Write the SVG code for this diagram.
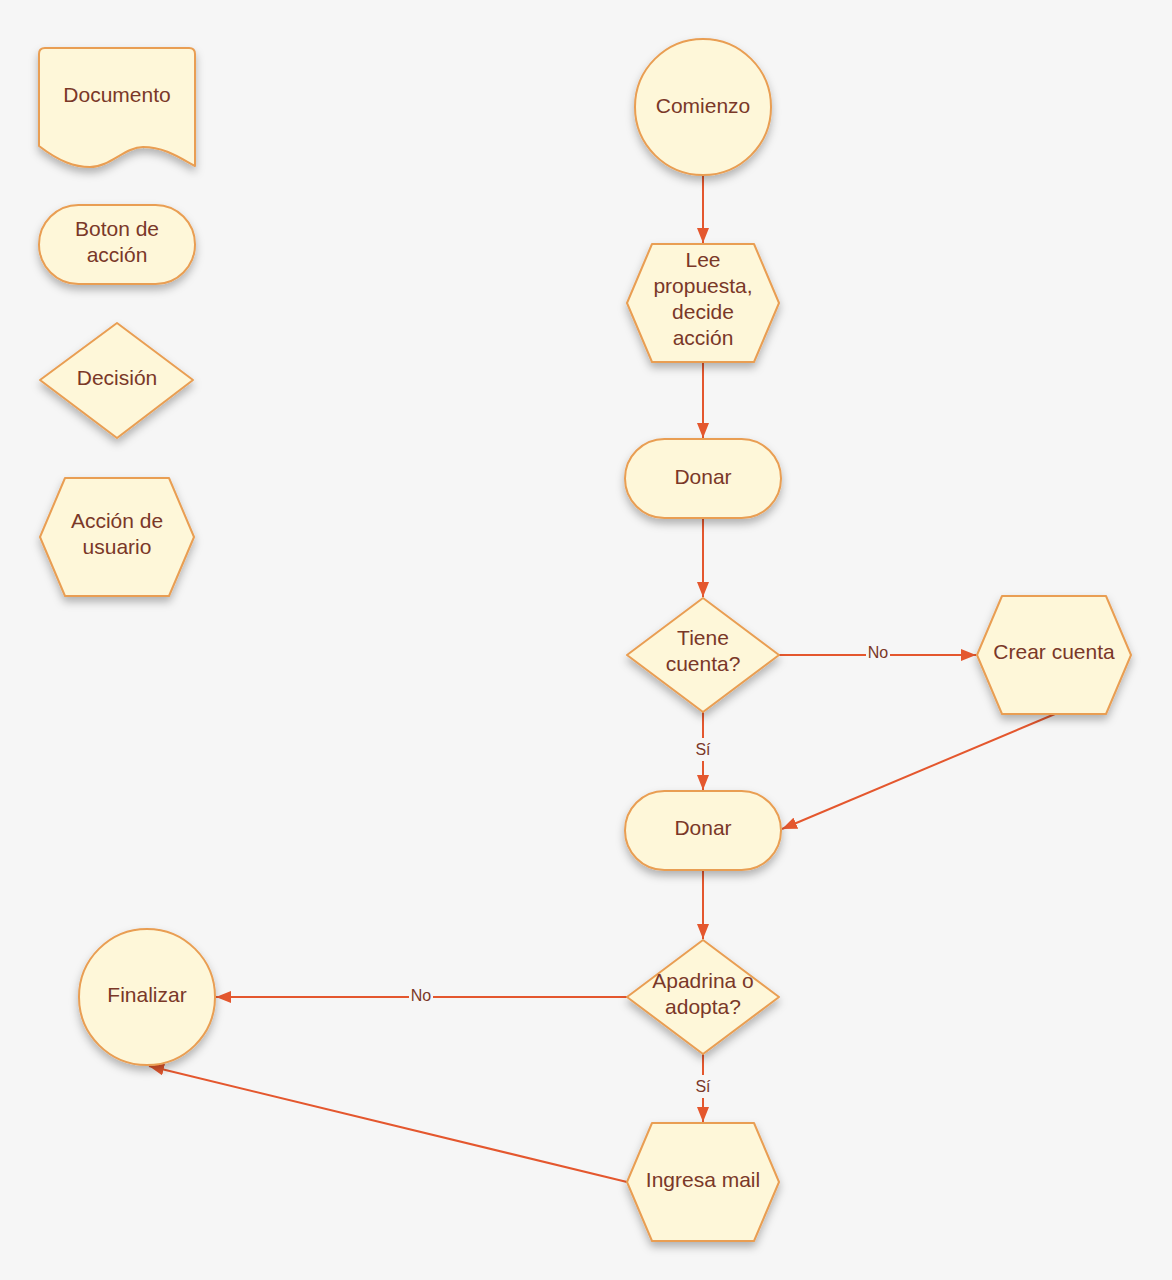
<svg xmlns="http://www.w3.org/2000/svg" width="1172" height="1280" viewBox="0 0 1172 1280">
<defs>
<filter id="sh" x="-20%" y="-20%" width="140%" height="150%">
<feDropShadow dx="0" dy="5" stdDeviation="4" flood-color="#000" flood-opacity="0.28"/>
</filter>
<marker id="ah" markerUnits="userSpaceOnUse" markerWidth="15" markerHeight="12" refX="15" refY="6" orient="auto">
<path d="M0,0 L15,6 L0,12 z" fill="#e4572e"/>
</marker>
<style>
.n{fill:#fef7d9;stroke:#e99e52;stroke-width:2;stroke-linejoin:round;filter:url(#sh)}
.t{font-family:"Liberation Sans",Arial,sans-serif;font-size:21px;fill:#7a3828;text-anchor:middle}
.c{stroke:#e4572e;stroke-width:2;fill:none;marker-end:url(#ah)}
.lb{fill:#f6f6f6}
.l{font-family:"Liberation Sans",Arial,sans-serif;font-size:16px;fill:#7a3828;text-anchor:middle}
</style>
</defs>
<rect width="1172" height="1280" fill="#f6f6f6"/>

<g id="connectors">
<line class="c" x1="703" y1="176" x2="703" y2="243"/>
<line class="c" x1="703" y1="362" x2="703" y2="438"/>
<line class="c" x1="703" y1="518" x2="703" y2="597"/>
<line class="c" x1="779" y1="655" x2="976" y2="655"/>
<rect class="lb" x="866" y="645" width="24" height="16"/>
<text class="l" x="878" y="658">No</text>
<line class="c" x1="703" y1="712" x2="703" y2="790"/>
<rect class="lb" x="694" y="738" width="18" height="23"/>
<text class="l" x="703" y="755">Sí</text>
<line class="c" x1="1055" y1="714" x2="782" y2="829"/>
<line class="c" x1="703" y1="870" x2="703" y2="939"/>
<line class="c" x1="627" y1="997" x2="216" y2="997"/>
<rect class="lb" x="409" y="988" width="24" height="16"/>
<text class="l" x="421" y="1001">No</text>
<line class="c" x1="703" y1="1054" x2="703" y2="1122"/>
<rect class="lb" x="694" y="1075" width="18" height="23"/>
<text class="l" x="703" y="1092">Sí</text>
<line class="c" x1="627" y1="1182" x2="149" y2="1066"/>
</g>

<g id="legend-documento">
<path class="n" d="M45,48 H189 Q195,48 195,54 V166 C180,158 165,147 143,147 C125,147 110,167 90,167 C75,167 60,162 39,146 V54 Q39,48 45,48 Z"/>
<text class="t" x="117" y="102">Documento</text>
</g>
<g id="legend-boton">
<rect class="n" x="39" y="205" width="156" height="79" rx="39.5"/>
<text class="t" x="117" y="236">Boton de</text>
<text class="t" x="117" y="262">acción</text>
</g>
<g id="legend-decision">
<polygon class="n" points="117,323 193,380 117,438 40,380"/>
<text class="t" x="117" y="385">Decisión</text>
</g>
<g id="legend-accion">
<polygon class="n" points="40,537 65,478 169,478 194,537 169,596 65,596"/>
<text class="t" x="117" y="528">Acción de</text>
<text class="t" x="117" y="554">usuario</text>
</g>

<g id="comienzo">
<circle class="n" cx="703" cy="107" r="68"/>
<text class="t" x="703" y="113">Comienzo</text>
</g>
<g id="lee-propuesta">
<polygon class="n" points="627,303 652,244 754,244 779,303 754,362 652,362"/>
<text class="t" x="703" y="267">Lee</text>
<text class="t" x="703" y="293">propuesta,</text>
<text class="t" x="703" y="319">decide</text>
<text class="t" x="703" y="345">acción</text>
</g>
<g id="donar1">
<rect class="n" x="625" y="439" width="156" height="79" rx="39.5"/>
<text class="t" x="703" y="484">Donar</text>
</g>
<g id="tiene-cuenta">
<polygon class="n" points="703,598 779,655 703,712 627,655"/>
<text class="t" x="703" y="645">Tiene</text>
<text class="t" x="703" y="671">cuenta?</text>
</g>
<g id="crear-cuenta">
<polygon class="n" points="977,655 1002,596 1106,596 1131,655 1106,714 1002,714"/>
<text class="t" x="1054" y="659">Crear cuenta</text>
</g>
<g id="donar2">
<rect class="n" x="625" y="791" width="156" height="79" rx="39.5"/>
<text class="t" x="703" y="835">Donar</text>
</g>
<g id="apadrina">
<polygon class="n" points="703,940 779,997 703,1054 627,997"/>
<text class="t" x="703" y="988">Apadrina o</text>
<text class="t" x="703" y="1014">adopta?</text>
</g>
<g id="finalizar">
<circle class="n" cx="147" cy="997" r="68"/>
<text class="t" x="147" y="1002">Finalizar</text>
</g>
<g id="ingresa-mail">
<polygon class="n" points="627,1182 652,1123 754,1123 779,1182 754,1241 652,1241"/>
<text class="t" x="703" y="1187">Ingresa mail</text>
</g>
</svg>
